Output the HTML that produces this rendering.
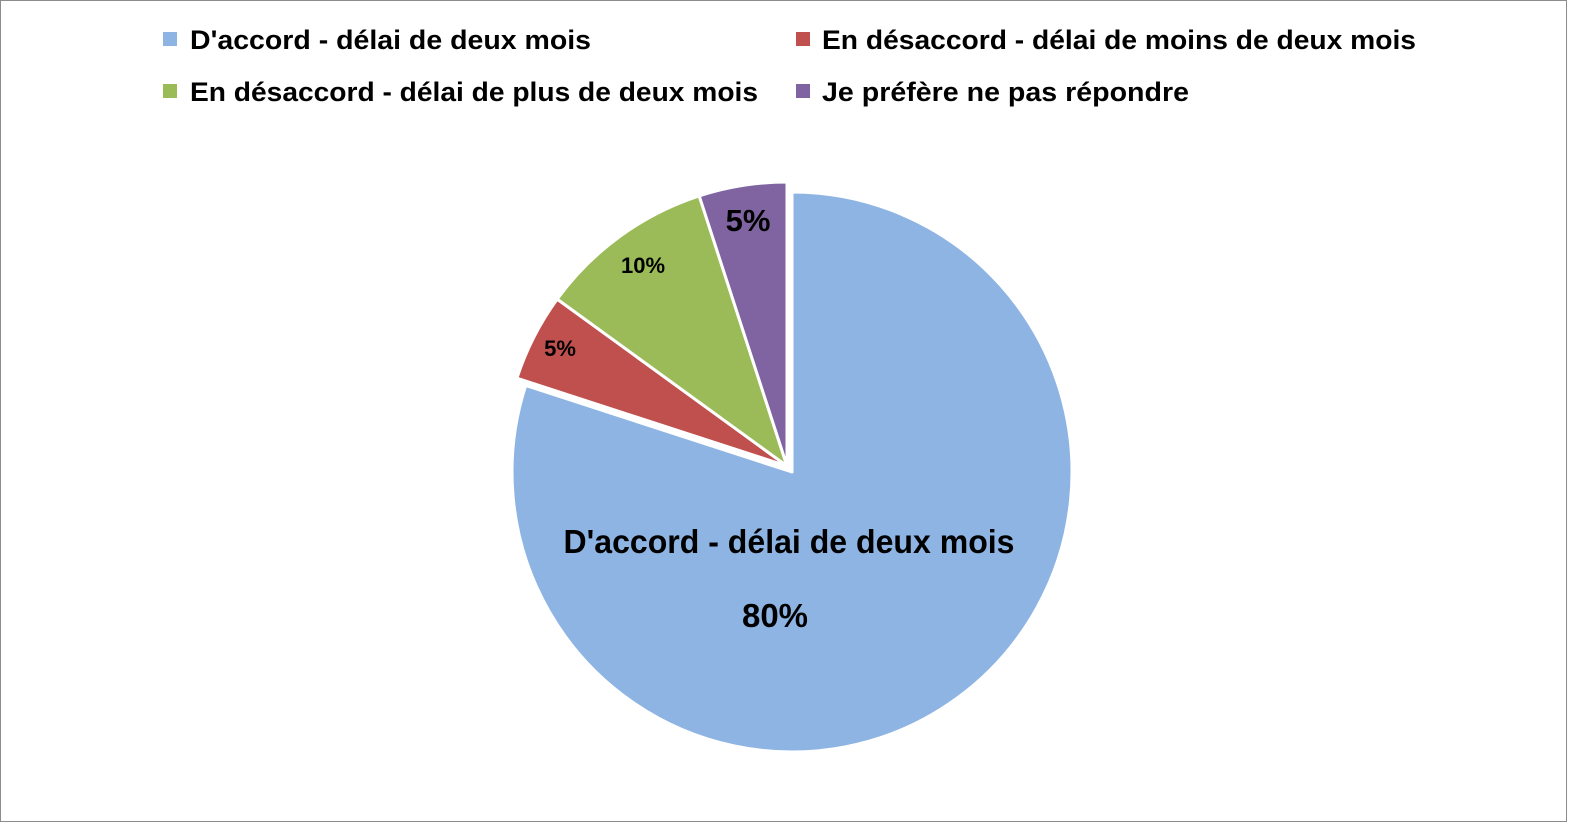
<!DOCTYPE html>
<html><head><meta charset="utf-8"><style>
html,body{margin:0;padding:0;background:#fff;}
svg{display:block;}
text{font-family:"Liberation Sans",sans-serif;font-weight:bold;fill:#000;}
</style></head><body>
<svg width="1582" height="829" viewBox="0 0 1582 829">
<rect x="0.5" y="0.5" width="1566" height="821" fill="#fff" stroke="#8c8c8c" stroke-width="1"/>
<rect x="163" y="32" width="14" height="14" fill="#8eb4e3"/>
<text x="190" y="49" font-size="27" textLength="401" lengthAdjust="spacingAndGlyphs">D'accord - délai de deux mois</text>
<rect x="796" y="32" width="14" height="14" fill="#c0504d"/>
<text x="822" y="49" font-size="27" textLength="594" lengthAdjust="spacingAndGlyphs">En désaccord - délai de moins de deux mois</text>
<rect x="163" y="84" width="14" height="14" fill="#9bbb59"/>
<text x="190" y="101" font-size="27" textLength="568" lengthAdjust="spacingAndGlyphs">En désaccord - délai de plus de deux mois</text>
<rect x="796" y="84" width="14" height="14" fill="#8064a2"/>
<text x="822" y="101" font-size="27" textLength="367" lengthAdjust="spacingAndGlyphs">Je préfère ne pas répondre</text>
<g stroke="#fff" stroke-width="3" stroke-linejoin="round">
<path d="M792,472 L792,192 A280,280 0 1 1 525.7,385.5 Z" fill="#8eb4e3"/>
<path d="M787,466 L516.9,378.2 A284,284 0 0 1 557.2,299.1 Z" fill="#c0504d"/>
<path d="M787,466 L557.2,299.1 A284,284 0 0 1 699.2,195.9 Z" fill="#9bbb59"/>
<path d="M787,466 L699.2,195.9 A284,284 0 0 1 787,182 Z" fill="#8064a2"/>
</g>
<text x="748" y="231" font-size="31" text-anchor="middle">5%</text>
<text x="643" y="273" font-size="22" text-anchor="middle">10%</text>
<text x="560" y="356" font-size="22" text-anchor="middle">5%</text>
<text x="789" y="553" font-size="33" text-anchor="middle" textLength="451" lengthAdjust="spacingAndGlyphs">D'accord - délai de deux mois</text>
<text x="775" y="627" font-size="33" text-anchor="middle">80%</text>
</svg>
</body></html>
